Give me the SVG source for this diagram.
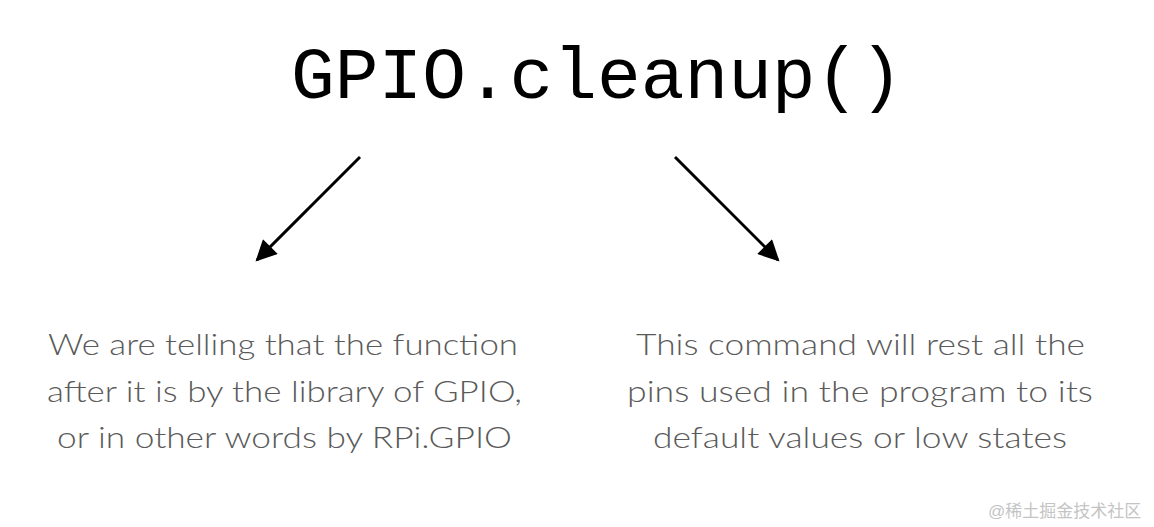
<svg xmlns="http://www.w3.org/2000/svg" width="1154" height="527" viewBox="0 0 1154 527">
  <style>
    .title { font-family: "Liberation Mono", "Courier New", monospace; font-size: 73px; fill: #000; }
    .body { font-family: Lato, "Noto Sans", sans-serif; font-weight: 300; font-size: 30px; fill: #5a5a5a; }
    .wm { font-family: "Liberation Sans", "Noto Sans CJK SC", sans-serif; font-size: 17px; fill: #c4c4c4; }
    .conn { stroke: #000; stroke-width: 3; fill: none; marker-end: url(#arrow); }
  </style>
  <defs>
    <marker id="arrow" viewBox="0 0 10 10" refX="9" refY="5" markerWidth="7.5" markerHeight="7" orient="auto" markerUnits="strokeWidth">
      <path d="M0,0 L10,5 L0,10 z" fill="#000"/>
    </marker>
  </defs>
  <rect width="1154" height="527" fill="#fff"/>
  <g id="title">
    <text class="title" x="597" y="98" text-anchor="middle" textLength="612" lengthAdjust="spacingAndGlyphs">GPIO.cleanup()</text>
  </g>
  <g id="connectors">
    <line class="conn" x1="360" y1="157" x2="257" y2="260"/>
    <line class="conn" x1="675" y1="157" x2="778" y2="260"/>
  </g>
  <g id="left-note">
    <text class="body" x="48" y="355" textLength="470" lengthAdjust="spacingAndGlyphs">We are telling that the function</text>
    <text class="body" x="47" y="402" textLength="475" lengthAdjust="spacingAndGlyphs">after it is by the library of GPIO,</text>
    <text class="body" x="57" y="448" textLength="455" lengthAdjust="spacingAndGlyphs">or in other words by RPi.GPIO</text>
  </g>
  <g id="right-note">
    <text class="body" x="636" y="355" textLength="449" lengthAdjust="spacingAndGlyphs">This command will rest all the</text>
    <text class="body" x="627" y="402" textLength="466" lengthAdjust="spacingAndGlyphs">pins used in the program to its</text>
    <text class="body" x="653" y="448" textLength="414" lengthAdjust="spacingAndGlyphs">default values or low states</text>
  </g>
  <g id="watermark">
    <text class="wm" x="988" y="517">@稀土掘金技术社区</text>
  </g>
</svg>
